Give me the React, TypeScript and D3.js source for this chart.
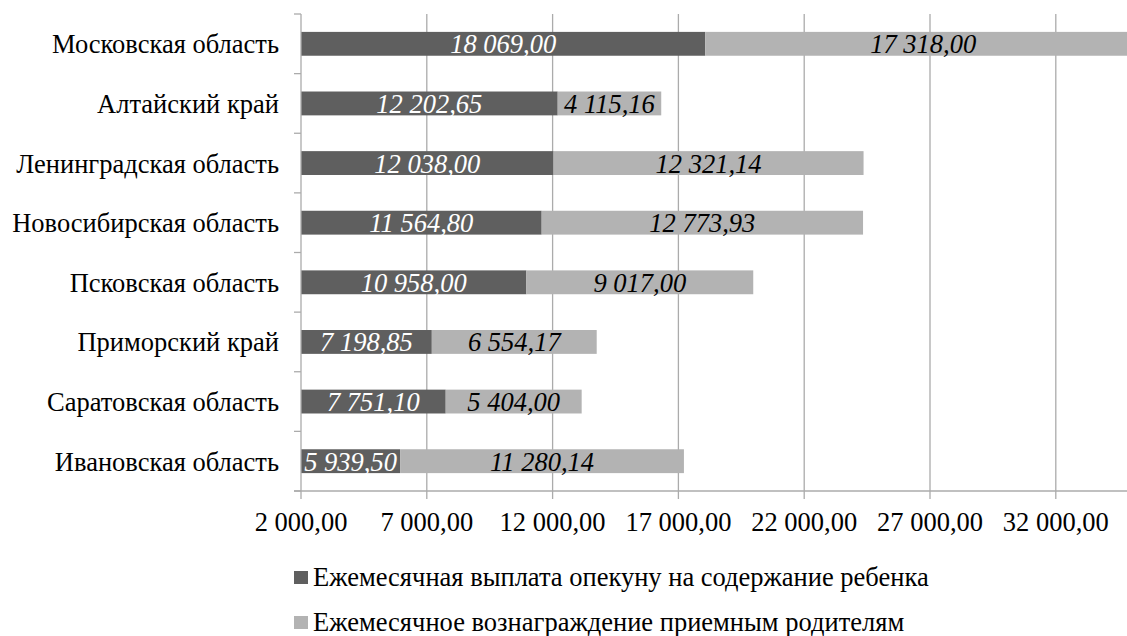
import React from "react";
import * as d3 from "d3";

const categories = [
  "Московская область",
  "Алтайский край",
  "Ленинградская область",
  "Новосибирская область",
  "Псковская область",
  "Приморский край",
  "Саратовская область",
  "Ивановская область",
];
const guardianValues = [18069.0, 12202.65, 12038.0, 11564.8, 10958.0, 7198.85, 7751.1, 5939.5];
const fosterValues = [17318.0, 4115.16, 12321.14, 12773.93, 9017.0, 6554.17, 5404.0, 11280.14];
const xTicks = [2000, 7000, 12000, 17000, 22000, 27000, 32000];
const seriesNames = [
  "Ежемесячная выплата опекуну на содержание ребенка",
  "Ежемесячное вознаграждение приемным родителям",
];

const W = 1127;
const H = 636;
const FONT = "Liberation Serif";
const FS = 26.5;
const DARK = "#5f5f5f";
const LIGHT = "#b3b3b3";
const GRID = "#ababab";

const locale = d3.formatLocale({ decimal: ",", thousands: " ", grouping: [3], currency: ["", ""] });
const fmt = locale.format(",.2f");

export default function App() {
  const x = d3.scaleLinear().domain([2000, 37000]).range([301, 301 + 7 * 125.8]);
  const y = d3.scaleBand<string>().domain(categories).range([14, 491]).paddingInner(0.6).paddingOuter(0.3);
  const step = y.step();
  const top = 14;
  const bottom = 491;
  const x0 = x(2000);
  const ts: React.CSSProperties = { fontFamily: FONT, fontSize: FS };
  const its: React.CSSProperties = { fontFamily: FONT, fontSize: FS, fontStyle: "italic" };

  return (
    <svg width={W} height={H} style={{ position: "absolute", left: 0, top: 0, background: "#fff" }}>
      {xTicks.slice(1).map((t) => (
        <line key={"g" + t} x1={x(t)} x2={x(t)} y1={top} y2={bottom} stroke={GRID} strokeWidth={1.3} />
      ))}
      {categories.map((c, i) => {
        const yy = y(c)!;
        const bw = y.bandwidth();
        const g = guardianValues[i];
        const f = fosterValues[i];
        const xs = x(2000);
        const xm = x(g);
        const xe = x(g + f);
        const cy = yy + bw / 2;
        return (
          <g key={c}>
            <rect x={xs} y={yy} width={xm - xs} height={bw} fill={DARK} />
            <rect x={xm} y={yy} width={xe - xm} height={bw} fill={LIGHT} />
            <text x={(xs + xm) / 2} y={cy + 9.5} textAnchor="middle" style={its} fill="#fff">
              {fmt(g)}
            </text>
            <text x={(xm + xe) / 2} y={cy + 9.5} textAnchor="middle" style={its} fill="#000">
              {fmt(f)}
            </text>
            <text x={279} y={cy + 9.5} textAnchor="end" style={ts} fill="#000">
              {c}
            </text>
          </g>
        );
      })}
      <line x1={x0} x2={x0} y1={top} y2={bottom} stroke={GRID} strokeWidth={1.3} />
      {d3.range(categories.length + 1).map((i) => (
        <line key={"yt" + i} x1={294} x2={x0} y1={top + i * step} y2={top + i * step} stroke={GRID} strokeWidth={1.3} />
      ))}
      <line x1={294} x2={W} y1={bottom} y2={bottom} stroke={GRID} strokeWidth={1.3} />
      {xTicks.map((t) => (
        <g key={"xt" + t}>
          <line x1={x(t)} x2={x(t)} y1={bottom} y2={bottom + 8} stroke={GRID} strokeWidth={1.3} />
          <text x={x(t)} y={531} textAnchor="middle" style={ts} fill="#000">
            {fmt(t)}
          </text>
        </g>
      ))}
      {seriesNames.map((s, i) => (
        <g key={s}>
          <rect x={294} y={571 + i * 45} width={14} height={13} fill={i === 0 ? DARK : LIGHT} />
          <text x={313} y={586 + i * 45} style={ts} fill="#000">
            {s}
          </text>
        </g>
      ))}
    </svg>
  );
}
